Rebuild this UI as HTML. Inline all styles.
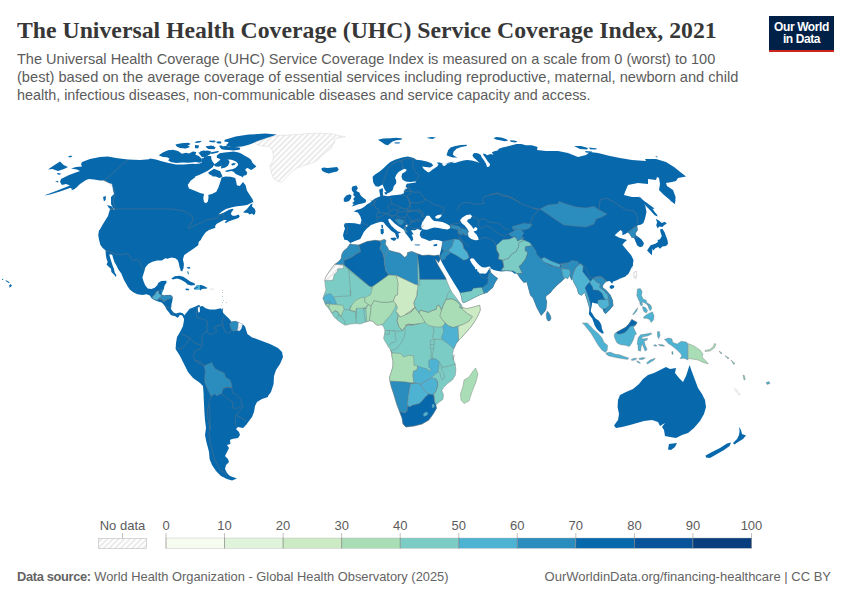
<!DOCTYPE html>
<html><head><meta charset="utf-8">
<style>
html,body{margin:0;padding:0;background:#fff;}
body{width:850px;height:600px;position:relative;overflow:hidden;font-family:"Liberation Sans",sans-serif;}
#title{position:absolute;left:17px;top:15px;transform:scaleX(0.9894);font-family:"Liberation Serif",serif;font-weight:bold;font-size:24px;line-height:30px;color:#373737;white-space:nowrap;transform-origin:0 0;}
#sub{position:absolute;left:17px;top:50px;font-size:15px;line-height:18px;color:#5b5b5b;white-space:nowrap;}
#sub span{display:block;transform-origin:0 0;}
#logo{position:absolute;left:769px;top:16px;width:65px;height:33.5px;background:#002147;border-bottom:2.5px solid #ce261e;color:#fff;font-weight:bold;font-size:12px;line-height:11.5px;text-align:center;letter-spacing:-0.4px;}
#logo div{margin-top:6px}
#f1{transform:scaleX(0.989);position:absolute;left:17px;top:569px;font-size:13px;line-height:16px;color:#646464;white-space:nowrap;transform-origin:0 0;}
#f2{position:absolute;right:19px;top:569px;font-size:13px;line-height:16px;color:#646464;white-space:nowrap;transform-origin:100% 0;}
svg{position:absolute;left:0;top:0;}
.lg{font-size:13px;fill:#5b5b5b;text-anchor:middle;font-family:"Liberation Sans",sans-serif;}
</style></head><body>
<div id="title">The Universal Health Coverage (UHC) Service Coverage Index, 2021</div>
<div id="sub"><span style="transform:scaleX(0.9683)">The Universal Health Coverage (UHC) Service Coverage Index is measured on a scale from 0 (worst) to 100</span><span style="transform:scaleX(0.9754)">(best) based on the average coverage of essential services including reproductive, maternal, newborn and child</span><span style="transform:scaleX(0.958)">health, infectious diseases, non-communicable diseases and service capacity and access.</span></div>
<div id="logo"><div>Our World<br>in Data</div></div>
<svg width="850" height="600" viewBox="0 0 850 600">
<defs>
<pattern id="hatch" width="4" height="4" patternUnits="userSpaceOnUse" patternTransform="rotate(45)"><rect width="4" height="4" fill="#fff"/><line x1="1" y1="0" x2="1" y2="4" stroke="#e6e6e6" stroke-width="1.6"/></pattern>
</defs>
<g id="map">
<path d="M82,162 L90,159 L100,157 L108,156.4 L116,158 L128,159.6 L140,160 L149,159.2 L150,158.6 L155.9,159.5 L161.7,161.2 L167.6,162.8 L176,164.4 L183.8,164.4 L192.9,163.8 L195,163.9 L199.9,163.5 L203.2,161.6 L204.9,157.7 L207.4,156.1 L211.1,156.1 L211.5,159.4 L212.7,161.8 L214.4,163.9 L212.7,167.2 L210.6,168.8 L207.4,170.9 L203.2,172.9 L199.1,175 L195,176.6 L195.5,177.1 L190.6,180.7 L187.7,185 L189,188.5 L194.2,190.4 L200.1,193 L204,194.1 L203.3,198.2 L204,202.1 L205.9,203.2 L207.9,201.5 L208.5,197.6 L208.3,195 L212.4,193.7 L216.3,191.7 L218.3,187.8 L219.6,183.9 L220.9,180 L221.5,177.4 L225.4,176.4 L230.6,176.8 L235.2,178.1 L236.1,181.3 L236.9,185.2 L239.7,185.9 L243,182 L245.6,185.2 L246.9,190.4 L250.1,195.6 L252.7,199.5 L253.4,203.4 L253.5,201.5 L252,202.5 L247,205 L242,205.8 L237,206.2 L232,207.2 L226,209 L221.5,211.8 L218.5,214.5 L223.5,212.8 L229,209.8 L232.5,208.8 L233.5,209.8 L231.8,211.5 L230.8,214 L232.5,215.8 L235.5,215.8 L238.5,214.5 L239.8,216.2 L238.5,218 L234,219.5 L229,221.2 L225.5,223.2 L225,222 L227,220 L224,220 L220,222 L216.5,224 L215,226.2 L215.5,227.8 L212,229 L209,230 L206,232 L204,234.5 L202,237.5 L200.8,240 L198.8,241.8 L198.2,245.3 L194.1,248.2 L191.2,250.2 L187.1,252.9 L184.1,255.3 L182.9,259.4 L183.9,264.1 L183.5,268.2 L182.4,270.6 L180.8,270.6 L179.4,266.5 L178.8,262.9 L177.6,260 L175.3,258.2 L171.2,257.6 L167.6,258.8 L165.3,258.2 L161.8,260.6 L157.1,260.4 L152.4,261.8 L148.2,264.1 L145.3,267.6 L144.7,270 L142.4,277.4 L143.6,281.5 L145.2,285.2 L147.7,288.5 L151.4,288.9 L154.7,287.7 L157.2,285.2 L158.4,282.8 L161.3,281.1 L166.2,280.7 L166.6,282.4 L164.6,285.6 L163.8,288.9 L162.5,291.4 L161.7,294.3 L163.8,295.5 L167.1,295.1 L170.8,295.1 L172.8,297.2 L172.4,300.5 L171.6,303.8 L171.2,307.1 L170.8,308.7 L172,310.4 L173.6,312.4 L176.1,313.6 L178.6,312.8 L180.2,312.4 L182.7,313.2 L184.8,315.7 L183.5,318.6 L182.7,316.1 L181.1,314.9 L179.4,315.3 L178.6,317.1 L177.4,317.8 L174.9,316.1 L172.8,315.7 L170.8,314.9 L168.7,312 L166.6,309.5 L165.4,307.1 L163.4,304.2 L161.7,302.5 L158.8,301.7 L155.5,300.5 L151.8,298.4 L149.8,295.5 L146.5,294.3 L142.4,295.1 L137.4,294.3 L133.3,292.2 L130,289.8 L128,287 L124,280 L121.3,273.6 L118.4,269.5 L116.4,265.4 L114.3,261.7 L113.1,258 L112.2,254.7 L109.8,254.3 L109.4,254.7 L110.2,258 L111.4,261.7 L112.6,265.4 L113.9,268.7 L114.7,272.4 L116.4,275.3 L115.9,276.9 L113.9,274.5 L111.4,272 L111,268.7 L108.5,266.6 L106.5,264.6 L107.7,262.1 L106.5,258.8 L105.8,254.7 L105.6,250.6 L102.4,247.7 L100.3,244.8 L99.1,239.9 L98.2,234.9 L99.1,230 L99.6,230 L103,224 L108,216 L110,209 L115,210 L113,208 L111,204 L111,197 L114,194 L113,190 L112,184 L109,183 L104,180.6 L100,180.6 L94,179.6 L89,179 L86,180 L80,184 L76,188 L70,188 L60,191.6 L50,194.4 L44,195.6 L56,191 L70,185.6 L66,184 L62,185 L60,182 L61,179 L69,175 L80,171 L77,169.6 L71,168.4 L76,167 L82,166.4 L81,164.4Z" fill="#0868ac"/>
<path d="M48,169.6 L53,166 L60,161.6 L63.6,165 L68,167 L64,169 L58,171 L52.4,169Z" fill="#0868ac"/>
<path d="M68,156.4 L71,155.6 L72.4,156.6 L69.6,157.4Z" fill="#0868ac"/>
<path d="M57,173 L61,173.6 L60,174.8 L57.6,174.4Z" fill="#0868ac"/>
<path d="M55,181.2 L58.4,181 L58,182.6Z" fill="#0868ac"/>
<path d="M71,188.4 L75.6,187.2 L75,189 L72,190Z" fill="#0868ac"/>
<path d="M103,197 L106,196 L105.6,200 L104,201.6Z" fill="#0868ac"/>
<path d="M107,205 L112,206.4 L114.4,211 L112,210.4 L109,208Z" fill="#0868ac"/>
<path d="M159,155 L164,152 L170,150 L170,157 L164,157Z" fill="#0868ac"/>
<path d="M159.1,155.6 L163,152.7 L167.6,150.4 L172.8,149.8 L178,151.1 L181.9,153.7 L185.8,152.7 L189,153.4 L192.9,151.4 L196.2,152.1 L195.5,154.7 L198.8,156 L201.4,158.6 L202,161.2 L200.1,162.8 L195.5,162.1 L189,162.8 L182.5,162.5 L176,163.1 L170.8,162.1 L168.2,160.5 L169.5,158.6 L166.9,157.3 L163,156.9Z" fill="#0868ac"/>
<path d="M203.3,152.1 L207.2,150.4 L211.1,151.4 L210.5,154 L207.2,156 L204.6,158.6 L202.7,156Z" fill="#0868ac"/>
<path d="M176,145.6 L181.2,143.9 L187.7,143.3 L189.7,144.3 L186.4,145.6 L189,146.9 L185.1,148.2 L180.6,147.5 L178,146.5Z" fill="#0868ac"/>
<path d="M194.2,142.6 L199.4,141 L201.7,141.5 L196.8,143.1Z" fill="#0868ac"/>
<path d="M205.9,146.9 L211.1,145.9 L215,147.5 L213.1,149.1 L208.5,148.8Z" fill="#0868ac"/>
<path d="M209.2,140.7 L215,140.5 L215.7,141.8 L210.5,142Z" fill="#0868ac"/>
<path d="M216.3,141.7 L220.9,142 L221.3,143.6 L217,143.3Z" fill="#0868ac"/>
<path d="M220.2,147.5 L225.4,146.2 L233.2,147.5 L239.7,148.2 L238.4,149.5 L233.2,149.8 L226.7,149.5 L222.2,149.1Z" fill="#0868ac"/>
<path d="M224.9,139.8 L235.6,136.5 L248.8,134.6 L265.3,133.6 L276.8,134.6 L265.3,139 L255.4,142.3 L248.8,144.8 L242.2,146.4 L232.4,147.2 L225.8,145.6 L229.1,142.3 L224.1,141.5Z" fill="#0868ac"/>
<path d="M216.8,155.6 L219.7,153.2 L224.6,152.4 L229.6,151.9 L233.7,151.5 L238.6,152.4 L241.1,153.6 L244.4,155.6 L248.5,157.7 L251,159.8 L252.6,163.1 L256.4,166.4 L252.6,169.2 L251,170.1 L247.7,168 L246.1,168.4 L245.2,170.1 L247.3,172.5 L246.5,175 L243.6,175.8 L242.8,177.5 L241.1,176.2 L237.8,175 L235.4,173.8 L233.7,171.7 L231.2,170.9 L227.9,171.7 L225.5,171.7 L225.1,170.9 L227.9,170.1 L232.1,169.2 L235.4,168 L237.8,165.5 L238.2,163.9 L236.2,161.8 L233.7,160.6 L231.2,159.8 L228.8,159.4 L226.3,159.8 L226.7,161.4 L224.6,163.9 L222.2,165.5 L218.9,166.8 L215.6,166.4 L213.5,164.7 L216.4,163.1 L218.9,161 L220.5,159.4 L218.9,158.5 L216.8,157.7Z" fill="#0868ac"/>
<path d="M231.2,163.9 L233.7,162.9 L235.8,163.5 L234.5,165.1 L232.1,165.5Z" fill="#0868ac"/>
<path d="M208.3,172.5 L214,168.7 L220.2,171.3 L222.6,176.4 L219.6,177.9 L215.7,176.4 L212.2,175.8 L208.8,174Z" fill="#0868ac"/>
<path d="M211.9,175.8 L215.6,175 L215.2,176.2 L212.7,176.6Z" fill="#0868ac"/>
<path d="M218.1,177.1 L219.7,176.2 L219.3,177.9Z" fill="#0868ac"/>
<path d="M205.7,146.6 L213.9,145.8 L213.5,147.8 L208.2,148.6Z" fill="#0868ac"/>
<path d="M218.9,145.8 L222.2,145.4 L223,147 L227.9,147.8 L233.7,147.4 L239.1,147.8 L238.6,149.1 L232.1,149.7 L226.3,149.5 L221.4,149.1Z" fill="#0868ac"/>
<path d="M198.3,152.4 L208.2,151.5 L207.4,154 L202.4,155.6 L199.9,154.4Z" fill="#0868ac"/>
<path d="M210.2,152.4 L218.9,150.7 L218.1,152.4 L211.5,154Z" fill="#0868ac"/>
<path d="M195,144.9 L199.1,145.4 L198.3,148.2 L195,148.2Z" fill="#0868ac"/>
<path d="M195,141.6 L201.6,140.8 L199.9,142.5Z" fill="#0868ac"/>
<path d="M209,140.8 L214.8,141.2 L214.4,142.5 L209.8,142.1Z" fill="#0868ac"/>
<path d="M217.2,141.6 L220.5,141.2 L221.4,142.9 L218.1,143.3Z" fill="#0868ac"/>
<path d="M226.3,141.2 L232.1,140 L241.1,140 L237.8,142.5 L232.1,143.7 L227.9,144.1 L229.6,142.5Z" fill="#0868ac"/>
<path d="M200.1,151.4 L203.3,150.4 L207.9,151.1 L208.5,154 L205.9,156 L202,157.3 L200.1,154.7Z" fill="#0868ac"/>
<path d="M201.4,158.6 L205.9,157.6 L208.5,159.2 L207.2,162.1 L203.3,163.4 L201.4,161.5Z" fill="#0868ac"/>
<path d="M205.9,146.5 L211.1,145.6 L215.7,147.2 L214.4,149.3 L208.5,149.1Z" fill="#0868ac"/>
<path d="M175.4,144.6 L181.2,143.3 L188.4,142.8 L190.6,144.1 L187.7,145.4 L190,147 L185.8,148.5 L180.2,148 L177,146.7Z" fill="#0868ac"/>
<path d="M220.2,147.2 L225.4,145.9 L233.2,147 L240.4,147.8 L239.7,149.8 L233.2,150.4 L226.7,149.8 L221.8,149.3Z" fill="#0868ac"/>
<path d="M228,140 L233.2,139.4 L238.4,141 L237.1,143.9 L231.9,144.9 L228.7,143.3Z" fill="#0868ac"/>
<path d="M222.8,159.9 L228,159.2 L229.6,162.1 L228,165.7 L224.8,167.7 L220.9,168.6 L221.5,165.1 L223.5,162.5Z" fill="#0868ac"/>
<path d="M243,212.2 L247,209 L251,204 L252.5,203.5 L252,206.5 L254.5,208.5 L255.5,211 L255,214 L253.5,215 L252,213.5 L249.5,214.5 L248,213 L245,212.8Z" fill="#0868ac"/>
<path d="M254.7,142.6 L260.6,140.3 L267.6,137.9 L277.1,135.6 L288.8,135 L299.4,134.4 L308.8,133.5 L320.6,133.2 L332.4,133.8 L339.4,135.6 L345.3,136.8 L338.2,137.9 L334.1,139.1 L334.7,142.6 L332.4,145 L331.2,148.5 L327.1,151.5 L324.4,153.5 L322,155.4 L319.4,158.4 L315.3,161.7 L311.2,163.2 L307.6,164.4 L301.8,166.2 L297.1,167.9 L292.4,170.9 L288.8,174.4 L285.3,178.5 L281.8,182.1 L278.2,181.5 L274.1,179.1 L271.8,174.4 L270.6,169.7 L270,165 L272.4,161.5 L273.5,156.8 L272.9,152.1 L271.2,147.9 L268.8,146.2 L264.1,146.2 L259.4,145.6 L256.5,144.4Z" fill="url(#hatch)" stroke="#dcdcdc" stroke-width="0.6"/>
<path d="M321.2,168.5 L323.5,167.4 L327.6,167.9 L332.4,167.4 L337.1,167.1 L338.8,169.5 L337.1,171.5 L332.4,172.6 L328.8,173.5 L325.3,172.6 L322.4,170.9Z" fill="#0868ac"/>
<path d="M171.4,278.5 L174.7,276.2 L179.4,275.8 L183.2,276.7 L186.7,279.1 L190.2,281.4 L194.5,283.2 L195.1,284.9 L191.2,285.4 L187.4,284.6 L186,282.8 L183.2,281.1 L180.4,279.4 L177.1,278.5 L172.9,279.5Z" fill="#0868ac"/>
<path d="M193.8,288.5 L196.9,285.3 L201.2,284.9 L204,286 L207.5,288.1 L206.1,288.8 L203.3,288.8 L201.2,289.5 L200.5,290.6 L199.1,289.2 L196.2,289.5 L194.1,289.2Z" fill="#0868ac"/>
<path d="M185,289.1 L186.8,288.5 L189.3,289.1 L188.9,290.2 L186.4,290.2Z" fill="#0868ac"/>
<path d="M209.6,288.6 L213.9,288.5 L214,289.7 L210,289.9Z" fill="#ececec"/>
<path d="M221.6,308.8 L222.9,308.5 L223.1,309.6 L222,310Z" fill="#0868ac"/>
<path d="M222,290.2 L222.7,290.2 L222.7,290.9 L222,290.9Z" fill="#7d9fb5"/>
<path d="M222,292.2 L222.7,292.2 L222.7,292.9 L222,292.9Z" fill="#7d9fb5"/>
<path d="M222.2,296.2 L222.9,296.2 L222.9,296.9 L222.2,296.9Z" fill="#7d9fb5"/>
<path d="M223.1,300.1 L223.8,300.1 L223.8,300.8 L223.1,300.8Z" fill="#7d9fb5"/>
<path d="M222,302.1 L222.7,302.1 L222.7,302.8 L222,302.8Z" fill="#7d9fb5"/>
<path d="M226.1,302.1 L226.8,302.1 L226.8,302.8 L226.1,302.8Z" fill="#7d9fb5"/>
<path d="M221.1,304.9 L221.8,304.9 L221.8,305.6 L221.1,305.6Z" fill="#7d9fb5"/>
<path d="M186.5,267.4 L189.4,266.7 L190.6,268.2 L188.2,268.8Z" fill="#0868ac"/>
<path d="M9.2,285.8 L10.2,284 L12,285.4 L10.9,286.8 L9.5,287.7Z" fill="#0868ac"/>
<path d="M5.3,280.3 L6.7,280.5 L9.9,282.4 L8.8,282.9 L6.4,281.5Z" fill="#0868ac"/>
<path d="M2,278.9 L3.2,278.7 L3.2,279.8 L2.1,279.9Z" fill="#0868ac"/>
<path d="M180.6,270 L182.7,270.2 L182.5,271.2 L180.9,271Z" fill="#0868ac"/>
<path d="M187.2,271.2 L188.3,271.5 L188.9,274.5 L187.8,274.1Z" fill="#0868ac"/>
<path d="M183.8,315.9 L186.2,312.9 L189.7,308.8 L194.4,307.1 L199.1,304.7 L200.3,306.5 L202.6,305.9 L205.6,308.2 L209.7,309.4 L215.6,309.4 L220.3,308.2 L222.6,310 L223.2,312.9 L226.2,315.9 L229.1,318.8 L231.5,321.8 L235.6,321.2 L239.1,322.4 L242.6,324.1 L245,326.5 L247.4,334.1 L252.1,337.6 L254,338 L262,341 L270,344 L278,348 L282,352 L283,357 L280,364 L276,370 L274,376 L273.6,384 L271,392 L268,396 L268,397 L262,399 L257,402 L255,406 L254,412 L252,417 L249,421 L246,425 L243,428 L238,427 L236,429 L239,432 L240,435 L238,438 L232,439 L230,440 L230.4,444 L227,445 L229,448 L227,452 L225,456 L228,459 L229,462 L226,465 L225,469 L227,473 L230,476 L237,478.6 L232,480.4 L227,479 L221,476 L216,471 L212,465 L209.6,459 L209,452 L208,448 L206.4,442 L205,435 L206,428 L205,420 L204.4,412 L204,404 L203.6,396 L203.6,394 L203,386 L200,383 L193,378 L188,372 L184,364 L180,356 L175.6,349 L176,343 L177,337 L180,332 L183,326 L184,320Z" fill="#0868ac"/>
<path d="M350,243.8 L352.4,244.4 L358.8,245 L367.1,241.5 L375.3,240.3 L380,240.9 L384.1,239.4 L385.9,240.3 L385.3,244.4 L387.6,247.4 L388.8,250.3 L392.9,251.5 L400,253.2 L404.7,257.4 L407.1,255.6 L407.6,252.6 L411.8,251.5 L412.1,251.5 L417.4,253.8 L422.6,255.6 L428.5,255 L434.4,255.8 L439.1,255 L440.3,259.1 L438.5,262.6 L436.2,259.7 L435,259.1 L437.9,265 L441.5,270.9 L445,276.8 L446.2,279.4 L448.5,285 L450.3,289.1 L452.1,292.6 L452.1,292.4 L455.6,297.1 L459.1,301.8 L461.5,304.7 L462.1,307.1 L466.2,308.8 L473.2,307.1 L479.7,305.3 L480.3,310 L477.9,315.9 L474.4,321.8 L470.3,327.6 L465,333.5 L460.3,338.8 L458.5,340.6 L456.2,343.5 L453.8,348.8 L452.6,353.5 L453.2,360 L454.1,354.7 L453.5,359.4 L455.3,364.1 L455.9,370 L455.3,375.3 L452.4,380 L447.6,383.5 L443.5,387.6 L441.8,390.6 L443.5,394.7 L442.9,399.4 L438.8,402.4 L435.9,405.3 L436.5,408.2 L433.5,413.5 L428.8,420 L422,424 L414,426 L406,427 L403,424 L402,418 L399.4,411.2 L397.1,405.3 L395.3,399.4 L393.5,393.5 L391.2,386.5 L390,381.2 L389.4,377.6 L391.2,372.4 L392.9,366.5 L392.9,360.6 L391.8,355.9 L391.8,352.9 L390.6,350 L392.4,354.1 L390.6,350 L388.2,346.5 L385.3,341.8 L383.5,338.2 L384.5,334.1 L384.9,330.6 L383.5,326.5 L381.2,324.7 L377.6,325.3 L375.3,324.1 L372.9,321.2 L369.4,320.8 L364.7,322.4 L360,324.1 L356.5,323.5 L350.6,324.1 L345.3,325.3 L342.9,324.1 L338.8,321.2 L334.1,317.1 L331.8,313.5 L328.8,308.8 L325.9,305.3 L324.7,302.9 L322.9,298.2 L324.1,294.7 L325.9,290 L325.3,286.2 L324.7,280.5 L325.9,276.8 L328.8,272.1 L331.8,267.9 L334.7,264.4 L338.8,261.5 L341.2,258.5 L341.8,254.4 L343.5,251.1 L347.3,247.9Z" fill="#7bccc4" stroke="#777777" stroke-width="0.4"/>
<path d="M350.3,242.9 L347.4,240.3 L344.4,239.7 L343,235.6 L343.8,232.1 L345,228.5 L343.8,225.6 L345,223.2 L349.1,222.9 L355,223.2 L360.3,224.4 L361.5,220.3 L360.3,216.2 L357.9,212.6 L353.8,211.5 L356.8,209.7 L360.3,209.1 L363.2,207.4 L365,206.2 L366.8,204.4 L370.3,202.6 L372.6,200.3 L375,198.5 L377.4,197.4 L380.3,196.2 L379.7,193.2 L379.1,189.7 L379.1,195 L379.1,189.7 L382.6,187.9 L383.2,190.9 L382.3,195 L383.2,188.5 L382.6,192.1 L383.2,195.6 L387.9,196.2 L391.5,195.6 L396.2,195 L400.9,194.4 L403.8,193.2 L404.4,190.3 L404.4,189.7 L407.4,188.5 L405.6,186.2 L406.8,183.8 L410.3,183.2 L415.6,182.6 L416.2,181.2 L410.3,182.1 L405.6,181.5 L402.6,179.7 L401.5,176.8 L402.1,173.8 L405.6,171.5 L406.8,169.7 L404.4,168.8 L401.5,170.3 L398.5,172.1 L396.2,175 L395,177.9 L396.2,180.3 L396.2,183.2 L393.8,186.2 L392.6,190.3 L389.7,192.6 L387.4,193.2 L385.6,190.9 L384.4,189.1 L383.8,187.4 L382.6,184.4 L378.5,186.8 L375.6,186.2 L373.2,182.6 L372.6,176.8 L375,174.4 L379.7,171.5 L383.2,168.5 L386.8,165 L390.3,162.1 L395,159.7 L402.1,157.4 L407.9,156.5 L413.8,157.9 L416.2,159.7 L420.9,160.3 L426.8,161.5 L431.5,163.2 L433.2,165.6 L430.3,167.6 L425.6,167.1 L422.1,166.4 L423.8,169.1 L426.2,171.1 L428.5,172.6 L430.9,171.1 L432.6,169.5 L435,167.9 L437.4,166.2 L438.5,164.4 L436.8,162.6 L439.7,162.4 L442.6,163.6 L442.1,165.6 L444.4,164.4 L449.1,162.6 L455,161.5 L441.8,165.3 L444.7,165.9 L447.1,164.1 L451.8,162.4 L454.7,162.9 L458.8,161.8 L463.5,160.6 L467.1,160 L471.8,160.6 L476.5,161.8 L479.4,162.9 L476.5,160 L473.5,157.6 L472.4,155.3 L474.1,152.9 L477.6,153.2 L480.6,154.7 L481.8,157.6 L484.1,160.6 L485.9,163.5 L487.1,167.1 L489.4,166.5 L490,164.1 L487.6,161.2 L485.3,157.6 L483.5,155.3 L482.9,153.5 L485.3,154.1 L487.1,155.3 L490.6,154.1 L493.5,154.7 L491.8,152.4 L494.1,151.2 L497.6,150.6 L498.8,148.8 L502.4,147.6 L507.1,146.5 L511.8,145.3 L516.5,144.1 L521.2,144.1 L525.9,145.3 L531.8,145.3 L537.6,147.1 L537,150 L546,151 L558,151 L568,153 L578,157 L586,155 L590,152 L598,153 L610,156 L620,158 L632,160 L646,161 L645,159 L656,159 L666,162 L674,167 L679,171 L686,176.4 L678,178 L676,181 L672,182 L666,183 L667,186 L673,190 L675.6,197 L675,204 L670,200 L664,195 L659,190 L660,184 L659,178 L657,177 L656,180 L648,179 L648,184 L638,183 L628,185 L625,192 L624,195 L632,197 L639,197 L642.4,200 L645.3,205.9 L646.5,211.8 L645.3,217.6 L643.5,222.9 L640.6,224.7 L637.6,225.3 L637.1,227.1 L637.6,230 L635.3,233.5 L636.2,235.6 L638.8,237.2 L641.6,239.5 L644,243.3 L642.8,246.2 L640,247.3 L637.2,245.4 L635.5,241.6 L634.1,237.9 L631.8,237.4 L629.4,233.5 L627.6,232.4 L625.3,234.1 L622.4,235.3 L622.4,231.8 L620.6,230 L617.6,232.4 L614.7,235.3 L618.8,237.6 L622.9,238.8 L627.1,240 L624.1,242.4 L622.4,244.7 L625.3,248.2 L628.2,251.8 L631.2,255.3 L633.5,260 L632.9,264.7 L631.8,270 L633.2,264.4 L630.9,269.1 L628.5,273.8 L625,276.8 L620.3,278.5 L616.8,280.3 L613.2,281.5 L612.1,283.8 L609.7,280.9 L606.2,281.5 L603.2,284.4 L602.6,287.4 L606.2,290.3 L610.3,295 L612.6,300.3 L613.2,305.6 L609.7,309.7 L605.6,313.8 L603.8,312.1 L602.6,309.1 L599.7,306.8 L597.9,303.8 L594.7,303.2 L592.2,302.5 L591.8,305.6 L591,309.4 L590.8,311.6 L592.4,313.7 L594,316.5 L595.9,318.7 L598.4,320.3 L600.3,322.8 L601.5,325.6 L601.9,328.7 L603.1,331.2 L603.8,333.2 L602.1,333.6 L599.2,331.6 L596.8,329.1 L594.7,325.4 L593.5,322.1 L592.2,318.4 L590.2,315.9 L588.8,313.9 L589.4,309.8 L588.9,306.5 L587.7,302.4 L586.1,297.4 L584.8,293.3 L584.4,292.6 L581.5,295.6 L578.5,293.8 L576.8,287.9 L573.8,282.6 L572.1,277.9 L571.5,280.3 L569.7,275.6 L567.4,279.1 L566.2,277.4 L563.8,279.1 L561.5,281.5 L558.1,284.2 L555.3,287.1 L552.5,289.9 L550.4,292.7 L548.2,294.5 L546.1,295.9 L545.8,298.4 L546.8,301.2 L546.5,304.7 L546.1,308.9 L545.1,311.1 L541.2,315.6 L537,308 L533,298 L530.3,295 L528.5,288.5 L526.8,282.1 L523.8,282.6 L520.3,278.5 L517.4,273.8 L514.3,273.4 L511.8,271.4 L506.1,270.9 L501.1,271.4 L497.8,270.9 L493.7,270.1 L490.8,268.5 L490,266.4 L487.9,266.8 L485.5,267.6 L482.2,267.2 L479.7,265.6 L477.2,263.1 L475.2,260.6 L473.5,258.6 L471.5,258.2 L469.8,259.4 L471.1,262.3 L472.7,264.8 L474.8,267.2 L475.6,269.7 L476.2,268.9 L477.2,269.3 L477.4,271.4 L478.1,271.4 L479.7,273.4 L483,273.4 L485.5,273.8 L487.1,272.2 L488.4,269.7 L489.6,269.7 L490,270.1 L491.2,273 L494.5,275.9 L497.8,278.4 L495.8,281.2 L494.1,284.5 L492.9,287.4 L489.6,290.3 L487.1,292.4 L484.2,293.6 L480.3,294.7 L470.9,299.4 L463.8,302.9 L462.1,301.8 L461.5,297.1 L459.7,292.4 L460.3,293.2 L457.4,288.5 L454.4,283.8 L450.9,277.9 L446.2,270.3 L442.6,263.8 L440.3,259.1 L439.7,254.4 L440.9,250.3 L441.7,246.2 L442.6,241.5 L441.8,241.2 L438.8,240.3 L434.1,239.7 L429.4,240.9 L424.7,239.1 L420,237.4 L421.5,237.9 L419.7,235 L420.3,232.1 L422.6,229.1 L420.9,230.3 L417.4,229.1 L415,230.3 L410.9,230.3 L412.1,232.1 L413.8,234.4 L411.5,234.4 L412.6,236.8 L413.2,239.7 L411.5,241.5 L409.7,238.5 L407.4,235.6 L405.6,233.2 L404.4,230.3 L402.1,228.5 L398.5,226.2 L395,223.8 L391.5,220.3 L389.7,218.5 L388.2,219.4 L388.9,222.1 L391.2,225.6 L394.8,229.1 L397.9,231.5 L401.1,232.3 L399.5,233 L398.3,233.8 L399.1,236.8 L397.9,239.4 L396.2,236.8 L395,233.2 L391.5,230.9 L388.5,227.9 L385.6,225 L383.8,222.6 L381.5,221.7 L379.7,222.1 L375.6,223.2 L372.6,224.4 L370.9,225 L369.7,226.2 L366.8,228.5 L363.8,232.1 L362.1,235.6 L360.3,239.1 L355,240.9Z" fill="#0868ac"/>
<path d="M352.4,186.4 L356.4,185.4 L357.9,188.3 L356.2,190.9 L359.1,192.3 L360.9,195.8 L363.2,197.7 L366.2,200.1 L365.6,202.4 L362.3,203.6 L358.5,204.3 L355,205.5 L351.7,206.6 L353.8,204.1 L352.2,202.9 L354.5,201 L353.2,199.1 L355,196.8 L353.2,195.1 L353.8,192.8 L352.2,190.9 L351.6,188.5Z" fill="#0868ac"/>
<path d="M343.8,198.5 L346.2,195.6 L349.7,194.2 L351.5,195.6 L350.9,198.5 L349.1,200.9 L346.2,202.1 L343.8,201.5Z" fill="#0868ac"/>
<path d="M390.3,237.9 L395,237.4 L396.8,238.5 L394.4,240.9 L391.5,239.7Z" fill="#0868ac"/>
<path d="M380.5,229.1 L383.5,228.5 L383.8,232.3 L382.8,234.5 L380.8,233.8Z" fill="#0868ac"/>
<path d="M381.4,224.8 L383,225.1 L382.9,228.2 L381.5,227.9Z" fill="#0868ac"/>
<path d="M384.4,192.1 L387.4,192.3 L387.1,194.4 L385,194.2Z" fill="#0868ac"/>
<path d="M414.4,244.4 L419.7,244.4 L419.7,245.4 L415,245.2Z" fill="#0868ac"/>
<path d="M433.2,244.8 L437.4,243.8 L436.8,245.9 L433.8,246.2Z" fill="#0868ac"/>
<path d="M377.9,139.7 L383.2,138.5 L390.3,138.2 L396.2,137.7 L402.1,138.5 L401.5,139.7 L396.2,140.3 L392.6,141.5 L390.3,143.2 L387.9,145.2 L385,144.4 L381.5,142.1Z" fill="#0868ac"/>
<path d="M394.4,142.4 L399.7,142.2 L399.5,143.4 L395,143.4Z" fill="#0868ac"/>
<path d="M426.8,137.7 L431.5,137 L435.9,137.4 L432.6,138.9 L429.1,138.5Z" fill="#0868ac"/>
<path d="M446.5,155.3 L448.2,150 L450.6,147.6 L455.3,145.9 L461.2,144.9 L467.1,144.7 L466.5,146.1 L461.2,147.1 L456.5,148.8 L453.5,151.8 L452.9,154.7 L455.3,156.5 L457.6,157.6 L452.9,157.4 L449.4,156.5Z" fill="#0868ac"/>
<path d="M493.5,137.9 L496.5,137.1 L501.2,137.6 L505.9,139.1 L508.2,140.6 L504.7,141.2 L500,140.2 L495.9,139.4Z" fill="#0868ac"/>
<path d="M510,140.2 L514.1,140.6 L517.6,141.5 L515.3,142.4 L510.6,141.8Z" fill="#0868ac"/>
<path d="M574,146 L581,146 L588,148 L587,149.6 L580,149Z" fill="#0868ac"/>
<path d="M589,147.6 L597,148.4 L596,149.6 L590,149.2Z" fill="#0868ac"/>
<path d="M585,151 L592,151.6 L591,153 L586,152.6Z" fill="#0868ac"/>
<path d="M655,156 L657.6,156.6 L657,157.6Z" fill="#0868ac"/>
<path d="M642.4,200 L647.1,202.9 L651.8,206.5 L654.7,208.8 L651.8,208.8 L653.5,211.2 L657.1,214.7 L657.6,216.5 L654.7,215.3 L651.8,211.8 L648.2,207.1 L644.7,203.5Z" fill="#0868ac"/>
<path d="M639,196 L645,202 L652,208 L657,215.6 L654,214 L648,208 L642,202Z" fill="#0868ac"/>
<path d="M655.9,218.8 L658.8,220.6 L661.8,222.9 L664.7,221.8 L666.8,223.5 L664.1,225.3 L662.4,227.1 L659.4,226.5 L657.6,228.2 L656.2,225.3 L657.1,222.4Z" fill="#0868ac"/>
<path d="M660,229.4 L662.4,228.8 L664.7,232.4 L666.1,236.5 L667.6,240.6 L668,244.1 L665.9,246.1 L662.4,246.5 L660,248.8 L658.2,247.1 L655.3,248.2 L653.5,250.6 L652.4,248.8 L651.8,255.3 L650,253.5 L647.1,250.6 L648.2,248.8 L650.6,245.3 L655.3,243.8 L657.9,242.1 L657.6,240 L660,239.2 L661.8,235.9 L660.6,232.4Z" fill="#0868ac"/>
<path d="M670,200 L675.3,200 L674.7,203.8 L671.8,201.8Z" fill="#0868ac"/>
<path d="M633.8,272.6 L636.2,270.9 L636.8,274.4 L635.6,279.1 L633.8,276.8Z" fill="url(#hatch)" stroke="#bbb" stroke-width="0.5"/>
<path d="M609.7,286.2 L611.5,285 L614.4,285.8 L613.8,287.9 L611.5,289.1 L609.7,287.9Z" fill="#0868ac"/>
<path d="M689.6,365 L692,372 L695,380 L698,388 L702,394 L705,400 L706,407 L704,414 L700,421 L694,428 L688,433 L682,435 L676,438 L670,437 L665,436 L664,430 L662,427 L665,423 L660,426 L658,422 L652,420 L644,421 L637,423 L630,425 L622,427 L616,428 L614,425.6 L618,420 L619,414 L617.6,407 L618,400 L620,395 L626,392 L633,389 L639,384 L643,379 L648,375 L654,373 L660,370 L666,367 L670,369 L676,368 L675,373 L679,378 L683,382 L686,376 L688,370Z" fill="#0868ac"/>
<path d="M669,444 L677,443 L675,447 L671,450 L668,449.6Z" fill="#0868ac"/>
<path d="M739,427 L741,430 L742,434 L746,435.6 L743,439 L738,442 L734.4,444.4 L733,443 L737,439 L739,435 L739.6,431Z" fill="#0868ac"/>
<path d="M731,442.4 L729.6,446 L724,450 L717,454 L710,458 L706,457.6 L705.6,455.6 L712,452 L720,448 L727,443.6Z" fill="#0868ac"/>
<path d="M734,389 L735.6,388.6 L740.4,394.4 L739,395.2Z" fill="url(#hatch)" stroke="#ccc" stroke-width="0.4"/>
<path d="M193.8,288.5 L196.9,285.3 L199.8,285.1 L200.1,289.2 L199.1,289.2 L196.2,289.5 L194.1,289.2 L196.6,288.3 L198,287.8 L197.6,286.7 L195.9,287.4Z" fill="#4eb3d3"/>
<path d="M156.2,291.6 L159,291 L158.8,293.5 L160.5,294.7 L161.7,294.7 L161.3,296.4 L158.8,298.4 L157.6,300.1 L154.3,299.6 L152.1,298 L153.1,295.9 L155.5,293.9Z" fill="#4eb3d3" stroke="#777777" stroke-width="0.38"/>
<path d="M161.7,295.1 L163.8,295.7 L167.1,295.3 L170.8,295.3 L172.8,297.2 L170.8,298.4 L168.3,299.2 L166.2,300.1 L164.6,301.7 L163.4,301.7 L162.5,299.6 L160.1,299.2 L159.6,298 L161.3,296.4Z" fill="#2b8cbe" stroke="#777777" stroke-width="0.38"/>
<path d="M161.7,289.4 L163.8,288.9 L162.5,291.4 L161.7,294.3 L160.9,294.3 L161.1,291.4Z" fill="#2b8cbe"/>
<path d="M204.1,365.9 L208.2,364.1 L211.8,362.4 L212.9,365.3 L215.3,368.8 L220,371.2 L224.1,372.9 L225.9,377.6 L230,380 L231.8,384.7 L231.8,387.6 L226.5,387.1 L222.9,388.8 L221.8,393.5 L218.8,394.7 L217.1,395.9 L214.7,394.1 L211.2,396.5 L208.8,391.8 L206.5,387.1 L204.7,382.4 L204.7,376.5 L205.3,371.2Z" fill="#2b8cbe" stroke="#777777" stroke-width="0.38"/>
<path d="M229.7,323.5 L232.1,321.8 L235.6,321.2 L238.5,322.4 L237.9,327.1 L236.8,330.6 L233.2,331.2 L230.9,328.8Z" fill="#2b8cbe" stroke="#777777" stroke-width="0.38"/>
<path d="M238.5,322.4 L242.6,324.1 L241.5,328.2 L239.7,330.8 L237.4,330.4 L238.2,327.1Z" fill="url(#hatch)" stroke="#ccc" stroke-width="0.4"/>
<path d="M197.9,307.3 L199.7,306.8 L199.9,311.8 L198.5,312.7 L197.9,310Z" fill="#ffffff"/>
<path d="M350,243.8 L352.4,244.4 L358.8,245 L360.6,251.5 L355.3,254.4 L351.2,257.4 L344.7,259.7 L344.1,264.4 L334.7,264.4 L338.8,261.5 L341.2,258.5 L341.8,254.4 L343.5,251.1 L347.3,247.9Z" fill="#2b8cbe" stroke="#777777" stroke-width="0.38"/>
<path d="M334.7,264.4 L342.9,265 L343.5,267.9 L337.6,269.1 L337.1,272.1 L334.1,274.4 L332.9,280.3 L324.7,280.5 L325.9,276.8 L328.8,272.1 L331.8,267.9Z" fill="url(#hatch)" stroke="#777777" stroke-width="0.38"/>
<path d="M358.8,245 L367.1,241.5 L375.3,240.3 L380,240.9 L381.2,243.8 L380,248.5 L382.9,253.2 L384.1,257.9 L384.7,265 L385.9,270.9 L388.8,275 L372.4,286.8 L369.4,286.2 L344.1,265 L344.1,260.3 L351.2,257.4 L355.3,254.4 L360.6,251.5Z" fill="#0868ac" stroke="#777777" stroke-width="0.38"/>
<path d="M380,240.9 L384.1,239.4 L385.9,240.3 L385.3,244.4 L387.6,247.4 L388.8,250.3 L385.9,253.8 L384.1,257.9 L382.9,253.2 L380,248.5 L381.2,243.8Z" fill="#2b8cbe" stroke="#777777" stroke-width="0.38"/>
<path d="M388.8,250.3 L392.9,251.5 L400,253.2 L404.7,257.4 L407.1,255.6 L407.6,252.6 L411.8,251.5 L417.6,253.8 L417.6,265 L417.9,285 L415.3,284.4 L396.5,275.6 L388.8,275 L385.9,270.9 L384.7,265 L384.1,257.9 L385.9,253.8Z" fill="#2b8cbe" stroke="#777777" stroke-width="0.38"/>
<path d="M417.4,253.8 L422.6,255.6 L428.5,255 L434.4,255.8 L439.1,255 L440.3,259.1 L438.5,262.6 L436.2,259.7 L435,259.1 L437.9,265 L441.5,270.9 L445,276.8 L446.2,279.4 L419.7,279.4 L418.9,266.2Z" fill="#0868ac" stroke="#777777" stroke-width="0.38"/>
<path d="M372.4,286.8 L388.8,275 L396.5,275.6 L398.2,283.8 L397.6,295 L395.3,295.9 L393.5,301.2 L388.2,302.4 L381.2,302.4 L374.1,300.6 L371.2,305.9 L368.2,304.7 L364.7,301.8 L364.7,297.6 L370.6,294.7 L371.8,290Z" fill="#a8ddb5" stroke="#777777" stroke-width="0.38"/>
<path d="M396.5,275.6 L415.3,284.4 L417.9,285 L417.4,290 L416.8,295.9 L413.8,302.9 L415,307.6 L410.9,311.8 L405,314.7 L414.7,307.6 L410.6,312.4 L404.7,315.3 L400,317.1 L397.6,312.9 L395.9,311.8 L397.6,307.6 L395.9,304.1 L393.5,301.2 L395.3,295.9 L397.6,295 L398.2,283.8Z" fill="#ccebc5" stroke="#777777" stroke-width="0.38"/>
<path d="M446.2,299.4 L452.1,298.8 L456.8,301.2 L460.3,305.3 L459.7,307.6 L462.1,308.8 L467.4,313.5 L472.6,316.5 L469.1,321.2 L463.8,324.1 L457.9,325.9 L453.2,327.6 L448.5,325.9 L445,322.9 L442.1,319.4 L439.7,315.9 L441.5,310 L443.2,305.3Z" fill="#a8ddb5" stroke="#777777" stroke-width="0.38"/>
<path d="M462.1,308.8 L462.1,307.1 L466.2,308.8 L473.2,307.1 L479.7,305.3 L480.3,310 L477.9,315.9 L474.4,321.8 L470.3,327.6 L465,333.5 L460.3,338.8 L458.5,340.6 L457.9,326.5 L463.8,324.1 L469.1,321.2 L472.6,316.5 L467.4,313.5Z" fill="#ccebc5" stroke="#777777" stroke-width="0.38"/>
<path d="M445,322.9 L448.5,325.9 L453.2,327.6 L457.9,326.5 L458.5,340.6 L456.2,343.5 L453.8,348.8 L448.5,344.1 L442.1,339.4 L441.5,337.1 L443.8,331.2 L442.6,326.5Z" fill="#4eb3d3" stroke="#777777" stroke-width="0.38"/>
<path d="M419.1,312.9 L420.3,310 L423.8,311.2 L428.5,312.4 L432.1,310.6 L436.2,309.4 L436.8,305.9 L439.1,305.3 L441.5,310 L439.7,315.9 L442.1,319.4 L445,322.9 L442.6,326.5 L437.9,327.1 L433.2,326.5 L428.5,325.3 L425,322.4 L422.1,317.6Z" fill="#a8ddb5" stroke="#777777" stroke-width="0.38"/>
<path d="M398.2,315.3 L400,317.1 L404.7,315.3 L410.6,312.4 L414.7,307.6 L410.9,311.8 L415,307.6 L419.1,312.9 L422.1,317.6 L425,322.4 L420.3,323.5 L415.6,324.1 L410.9,325.3 L407.4,324.7 L405,325.3 L414.1,324.7 L408.2,324.1 L404.7,327.6 L402.4,330.6 L398.8,326.5 L397.1,320.6Z" fill="#a8ddb5" stroke="#777777" stroke-width="0.38"/>
<path d="M322.9,298.2 L325.9,294.7 L330.6,293.5 L333.5,297.1 L335.9,301.8 L336.5,304.1 L325.9,304.1 L324.7,302.4 L331.2,301.8 L324.7,301.2Z" fill="#4eb3d3" stroke="#777777" stroke-width="0.38"/>
<path d="M325.3,304.1 L330,304.1 L329.4,306.5 L326.5,305.9Z" fill="#a8ddb5" stroke="#777777" stroke-width="0.38"/>
<path d="M328.8,306.5 L330,304.1 L336.5,304.7 L342.9,305.3 L344.1,309.4 L342.4,312.4 L341.2,316.5 L337.6,311.8 L335.3,310.6 L332.4,312.9 L330,309.4Z" fill="#a8ddb5" stroke="#777777" stroke-width="0.38"/>
<path d="M351.2,305.9 L355.3,300.6 L361.2,297.6 L364.7,297.6 L364.7,301.8 L368.2,304.7 L365.3,307.6 L363.5,308.2 L356.5,308.2 L355.3,311.8 L349.4,310Z" fill="#a8ddb5" stroke="#777777" stroke-width="0.38"/>
<path d="M363.5,308.2 L365.9,308.8 L368.2,304.7 L371.2,305.9 L370.6,312.4 L369.4,320.8 L366.8,321.8 L365.9,308.8Z" fill="#a8ddb5" stroke="#777777" stroke-width="0.38"/>
<path d="M371.2,305.9 L374.1,300.6 L381.2,302.4 L388.2,302.4 L393.5,301.2 L395.9,304.1 L395.3,307.6 L390.6,315.3 L386.5,319.4 L383.5,323.5 L381.2,324.7 L377.6,325.3 L375.3,324.1 L372.9,321.2 L369.4,320.8 L370.6,312.4Z" fill="#a8ddb5" stroke="#777777" stroke-width="0.38"/>
<path d="M391.8,352.9 L400.6,353.5 L403.5,357.1 L408.8,355.3 L413.5,355.9 L414.1,365.3 L417.6,365.9 L417.1,370 L413.5,371.2 L412.9,375.9 L414.1,382.4 L410.6,382.9 L405.3,382 L390,381.2 L389.4,377.6 L391.2,372.4 L392.9,366.5 L392.9,360.6 L391.8,355.9Z" fill="#a8ddb5" stroke="#777777" stroke-width="0.38"/>
<path d="M390,381.2 L405.3,382 L410.6,382.9 L417.1,383.2 L410.6,383.9 L409.4,390 L408.2,397.1 L407.6,405.3 L407.1,411.2 L404.7,412.9 L399.4,411.2 L397.1,405.3 L395.3,399.4 L393.5,393.5 L391.2,386.5Z" fill="#2b8cbe" stroke="#777777" stroke-width="0.38"/>
<path d="M410.6,383.9 L417.1,383.2 L420.6,384.1 L422.4,387.6 L425.3,391.2 L428.8,394.1 L425.3,397.1 L422.4,400.6 L419.4,403.5 L415.9,404.4 L412.4,405.3 L409.4,407.1 L407.6,405.3 L408.2,397.1 L409.4,390Z" fill="#4eb3d3" stroke="#777777" stroke-width="0.38"/>
<path d="M420.6,384.1 L425.3,381.2 L431.2,377.6 L435.9,378.8 L437.6,381.8 L437.6,386.5 L435.9,391.2 L433.5,394.7 L428.8,394.1 L425.3,391.2 L422.4,387.6Z" fill="#4eb3d3" stroke="#777777" stroke-width="0.38"/>
<path d="M414.1,382.4 L412.9,375.9 L413.5,371.2 L417.1,370 L417.6,365.9 L421.8,367.6 L426.5,368.8 L430,371.2 L431.2,369.4 L428.8,367.1 L428.8,360.6 L431.2,358.8 L435.9,358.8 L439.4,361.8 L438.8,366.5 L438.2,371.8 L435.3,374.1 L431.2,377.6 L425.3,381.2 L420.6,384.1 L417.1,383.2 L414.1,382.9Z" fill="#4eb3d3" stroke="#777777" stroke-width="0.38"/>
<path d="M399.4,411.2 L404.7,412.9 L407.1,411.2 L407.6,405.3 L409.4,407.1 L412.4,405.3 L415.9,404.4 L419.4,403.5 L422.4,400.6 L425.3,397.1 L428.8,394.1 L433.5,394.7 L434.1,397.1 L434.5,401.8 L435.3,403.5 L435.9,405.3 L436.5,408.2 L433.5,413.5 L428.8,420 L422,424 L414,426 L406,427 L403,424 L402,418Z" fill="#0868ac" stroke="#777777" stroke-width="0.38"/>
<path d="M475.6,368 L478,374 L476,382 L472,392 L469,401 L464,403.6 L461,400 L460.4,394 L463,386 L464,380 L469,377 L473,371Z" fill="#a8ddb5" stroke="#777777" stroke-width="0.38"/>
<path d="M547.2,311.1 L548.9,312.8 L550.7,316 L551.1,318.8 L549.6,320.9 L547.9,320.9 L546.5,318.5 L546.1,314.6Z" fill="#2b8cbe" stroke="#777777" stroke-width="0.38"/>
<path d="M395,219.7 L399.1,219.1 L403.2,220.3 L403.8,222.6 L401.5,225 L399.1,224.4 L396.8,222.1Z" fill="#2b8cbe" stroke="#777777" stroke-width="0.38"/>
<path d="M404.4,226.8 L405.6,226.2 L406.2,229.7 L407.4,232.1 L405.6,233.2 L404.6,230.3Z" fill="#2b8cbe" stroke="#777777" stroke-width="0.38"/>
<path d="M405.6,225 L407.4,224.8 L407.5,226.6 L405.8,226.8Z" fill="#f2f2f2"/>
<path d="M450,225 L454.1,225.6 L458.8,226.2 L461.2,228.5 L458.8,229.7 L455.3,229.1 L451.2,227.9Z" fill="#2b8cbe" stroke="#777777" stroke-width="0.38"/>
<path d="M457.6,230.3 L460.6,230.3 L462.9,233.2 L461.2,235 L458.8,233.2Z" fill="#2b8cbe" stroke="#777777" stroke-width="0.38"/>
<path d="M461.2,228.5 L464.1,229.1 L467.1,230.3 L468.5,232.6 L467.6,235.6 L464.7,235 L462.9,233.2 L460.6,230.3 L458.8,229.7Z" fill="#2b8cbe" stroke="#777777" stroke-width="0.38"/>
<path d="M442.6,241.5 L448.5,240.3 L454.4,239.1 L453.2,242.6 L452.1,246.2 L448.5,250.3 L443.8,251.5 L442.1,248.5 L442.1,244.4Z" fill="#2b8cbe" stroke="#777777" stroke-width="0.38"/>
<path d="M440.9,254.4 L443.8,251.5 L448.5,250.3 L450.9,252.6 L446.2,256.2 L445,259.1 L441.5,260.3 L440.3,259.1Z" fill="#2b8cbe" stroke="#777777" stroke-width="0.38"/>
<path d="M454.4,239.1 L459.1,239.7 L462.6,243.8 L463.8,248.5 L467.4,252.6 L469.1,257.4 L467.4,259.1 L463.8,260.3 L457.9,256.2 L450.9,252.6 L448.5,250.3 L452.1,246.2 L453.2,242.6Z" fill="#4eb3d3" stroke="#777777" stroke-width="0.38"/>
<path d="M461.2,292.8 L471.5,291.1 L473.5,288.2 L481.4,287.4 L482.2,287.8 L484.2,293.6 L480.3,294.7 L470.9,299.4 L463.8,302.9 L462.1,301.8 L461.5,297.1 L459.7,292.4Z" fill="#7bccc4" stroke="#777777" stroke-width="0.38"/>
<path d="M489.6,271.4 L490,270.1 L491.2,273 L494.5,275.9 L497.8,278.4 L495.8,281.2 L494.1,284.5 L492.9,287.4 L489.6,290.3 L487.1,292.4 L484.2,293.6 L482.2,287.8 L487.5,283.7 L488.4,279.6 L487.5,278.4 L488.4,275.5Z" fill="#2b8cbe" stroke="#777777" stroke-width="0.38"/>
<path d="M488.9,268.7 L489.8,268.3 L490.6,269.5 L489.6,269.9Z" fill="#2b8cbe" stroke="#777777" stroke-width="0.38"/>
<path d="M496.2,245.6 L502.6,239.7 L509.7,239.1 L514.4,236.8 L516.8,238.5 L517.4,240.9 L521.5,239.1 L524.4,240.3 L519.1,242.6 L518.5,246.8 L516.2,251.5 L511.5,254.4 L508.5,258.5 L502.6,260.3 L498.5,259.1 L499.1,254.4 L496.8,250.3Z" fill="#7bccc4" stroke="#777777" stroke-width="0.38"/>
<path d="M519.1,242.6 L524.4,240.3 L529.7,242.6 L532.1,245.6 L525.6,246.8 L525,250.3 L527.9,252.6 L525.6,259.1 L521.5,264.4 L519.1,266.2 L520.3,269.1 L522.6,273.2 L517.4,273.8 L513.2,270.9 L500.9,270.6 L503.8,266.8 L502.6,260.3 L508.5,258.5 L511.5,254.4 L516.2,251.5 L518.5,246.8Z" fill="#7bccc4" stroke="#777777" stroke-width="0.38"/>
<path d="M525.6,246.8 L532.1,245.6 L535.6,250.3 L536.8,254.4 L540.3,257.9 L543.8,261.5 L550.9,265.6 L559.1,267.9 L561.5,266.8 L560.3,263.8 L565,263.2 L568.5,262.6 L572.1,260.3 L577.9,261.5 L579.1,264.4 L575.6,267.4 L573.8,272.1 L572.6,276.8 L571.5,280.3 L569.7,275.6 L570.3,273.2 L569.7,269.7 L566.2,269.1 L561.5,268.5 L562.6,274.4 L563.8,279.1 L561.5,281.5 L558.1,284.2 L555.3,287.1 L552.5,289.9 L550.4,292.7 L548.2,294.5 L546.1,295.9 L545.8,298.4 L546.8,301.2 L546.5,304.7 L546.1,308.9 L545.1,311.1 L541.2,315.6 L537,308 L533,298 L530.3,295 L528.5,288.5 L526.8,282.1 L523.8,282.6 L520.3,278.5 L517.4,273.8 L522.6,273.2 L520.3,269.1 L519.1,266.2 L521.5,264.4 L525.6,259.1 L527.9,252.6 L525,250.3Z" fill="#2b8cbe" stroke="#777777" stroke-width="0.38"/>
<path d="M541.5,258.5 L544.4,257.4 L550.9,260.9 L556.8,263.2 L560.3,264.4 L559.7,267.4 L554.4,266.2 L548.5,263.8 L543.2,261.5Z" fill="#4eb3d3" stroke="#777777" stroke-width="0.38"/>
<path d="M562.1,264.4 L566.2,263.8 L567.9,265.6 L565,266.8 L562.1,266.2Z" fill="#2b8cbe" stroke="#777777" stroke-width="0.38"/>
<path d="M561.5,268.5 L566.2,269.1 L569.7,269.7 L570.3,273.2 L569.7,275.6 L567.4,279.1 L566.2,277.4 L563.8,279.1 L562.6,274.4Z" fill="#4eb3d3" stroke="#777777" stroke-width="0.38"/>
<path d="M508.5,233.8 L513.2,231.5 L516.8,228.5 L521.5,229.7 L523.8,233.2 L521.5,236.8 L524.4,237.9 L521.5,239.1 L517.4,240.9 L516.8,238.5 L514.4,236.8 L510.9,236.2Z" fill="#2b8cbe" stroke="#777777" stroke-width="0.38"/>
<path d="M512.1,226.8 L517.9,225 L523.8,223.2 L532.1,224.4 L529.7,227.9 L525,229.7 L521.5,229.7 L516.8,228.5 L513.2,229.7Z" fill="#2b8cbe" stroke="#777777" stroke-width="0.38"/>
<path d="M575.6,267.9 L580.3,263.2 L583.2,266.2 L582.6,271.5 L585.6,275.6 L588.5,279.1 L590.3,281.5 L586.8,285 L585,287.9 L586.8,292.6 L588.5,297.4 L590.3,303.2 L590.1,310.3 L589.1,306.8 L587.9,302.1 L586.2,296.2 L584.4,292.6 L581.5,295.6 L578.5,293.8 L576.8,287.9 L573.8,282.6 L572.1,277.9 L573.2,273.8Z" fill="#4eb3d3" stroke="#777777" stroke-width="0.38"/>
<path d="M590.3,281.5 L593.2,278.5 L596.8,282.1 L600.3,283.8 L599.7,287.4 L603.8,290.3 L607.9,295 L608.5,299.1 L605.6,299.7 L603.8,297.4 L602.1,293.2 L598.5,290.3 L593.2,289.7 L592.6,286.8 L590.3,283.8Z" fill="#4eb3d3" stroke="#777777" stroke-width="0.38"/>
<path d="M593.2,278.5 L595.6,276.8 L600.3,276.2 L603.8,278.5 L606.2,281.5 L603.2,284.4 L602.6,287.4 L606.2,290.3 L610.3,295 L612.6,300.3 L613.2,305.6 L609.7,309.7 L605.6,313.8 L603.8,312.1 L605.6,308.5 L609.1,305.6 L608.5,299.1 L607.9,295 L603.8,290.3 L599.7,287.4 L600.3,283.8 L596.8,282.1Z" fill="#2b8cbe" stroke="#777777" stroke-width="0.38"/>
<path d="M597.9,300.3 L600.9,299.7 L605.6,299.7 L608.5,299.1 L609.1,305.6 L605.6,308.5 L602.6,309.1 L599.7,306.8 L597.9,303.8Z" fill="#4eb3d3" stroke="#777777" stroke-width="0.38"/>
<path d="M540,209 L548,205 L558,204 L559,201.6 L566,204 L576,207 L586,208 L594,206.4 L599,210 L607,214 L602,217 L596,219 L594,224 L586,227 L574,226 L564,225 L556,220 L549,215 L543,211Z" fill="#2b8cbe" stroke="#777777" stroke-width="0.38"/>
<path d="M627.6,232.4 L631.8,229.4 L635.3,226.5 L637.1,227.1 L637.6,230 L635.3,233.5 L635.9,235.9 L634.1,237.6 L631.8,237.4 L629.4,233.5Z" fill="#2b8cbe" stroke="#777777" stroke-width="0.38"/>
<path d="M582.4,322.9 L587.3,322.9 L590.6,326.2 L593.5,329.4 L598.2,333.5 L601.8,337.6 L604.1,342.4 L607.6,345.3 L607.1,350.6 L605.3,352.4 L601.8,350 L598.2,345.3 L594.7,339.4 L591.2,333.5 L584.8,325.4Z" fill="#4eb3d3" stroke="#777777" stroke-width="0.38"/>
<path d="M605.9,352.9 L610,352.1 L614.7,354.1 L619.4,354.7 L624.1,356.5 L628.8,358 L627.6,359.4 L622.9,358.8 L618.2,358 L613.5,357.1 L608.8,355.9 L606.5,354.5Z" fill="#4eb3d3" stroke="#777777" stroke-width="0.38"/>
<path d="M631.2,359.4 L634.1,358.2 L637.1,358.5 L634.7,360 L631.8,360.6Z" fill="#4eb3d3" stroke="#777777" stroke-width="0.38"/>
<path d="M638.8,358.5 L642.4,357.6 L645.3,358 L642.9,359.4 L639.4,359.6Z" fill="#4eb3d3" stroke="#777777" stroke-width="0.38"/>
<path d="M636.5,360.8 L638.8,361.5 L640.6,363.2 L638.2,362.9Z" fill="#4eb3d3" stroke="#777777" stroke-width="0.38"/>
<path d="M646.5,362.9 L650,360 L655.3,358.2 L654.1,360 L650,362.4 L647.6,363.9Z" fill="#4eb3d3" stroke="#777777" stroke-width="0.38"/>
<path d="M614.7,333.5 L617.1,331.8 L620.6,330 L625.3,327.6 L628.8,324.1 L631.8,319.4 L637.1,322.4 L635.3,325.3 L633.5,327.6 L635.3,331.2 L636.5,334.1 L634.7,335.3 L633.5,339.4 L631.2,344.1 L629.4,346.5 L625.3,345.3 L620.6,344.7 L617.1,342.9 L615.3,339.4 L614.1,335.9Z" fill="#4eb3d3" stroke="#777777" stroke-width="0.38"/>
<path d="M638.2,337.6 L640.6,334.7 L645.3,334.1 L651.2,332.9 L651.8,334.1 L647.6,335.9 L642.9,336.8 L641.2,338.8 L644.7,338.8 L647.6,338.2 L647.1,340 L644.1,341.2 L645.3,345.3 L647.1,349.4 L645.3,351.2 L643.5,347.6 L642.4,344.1 L641.2,346.5 L640.6,351.2 L638.2,350.6 L638,345.3 L637.1,344.1Z" fill="#4eb3d3" stroke="#777777" stroke-width="0.38"/>
<path d="M657.3,331.8 L659.4,331.4 L660,335.3 L658.8,338.8 L657.6,336.5Z" fill="#4eb3d3" stroke="#777777" stroke-width="0.38"/>
<path d="M653.5,345.1 L655.9,344.7 L657.1,345.9 L654.7,346.2Z" fill="#4eb3d3" stroke="#777777" stroke-width="0.38"/>
<path d="M658.2,344.4 L662.9,344.7 L664.7,346.2 L660.6,345.9Z" fill="#4eb3d3" stroke="#777777" stroke-width="0.38"/>
<path d="M671.8,351.8 L672.9,351.4 L673.1,354.1 L672,354.5Z" fill="#4eb3d3" stroke="#777777" stroke-width="0.38"/>
<path d="M637.4,289.1 L640.3,288.5 L642.1,291.5 L641.5,295.6 L643.2,299.1 L646.2,300.3 L646.8,302.6 L649.7,304.4 L651.5,307.4 L649.1,306.8 L646.2,303.8 L642.6,302.1 L640.3,303.2 L638.5,299.7 L636.8,295.6Z" fill="#4eb3d3" stroke="#777777" stroke-width="0.38"/>
<path d="M642.4,306.5 L645.5,307.6 L647.6,310.5 L646.4,313.1 L643.8,311.5 L642.9,308.9Z" fill="#4eb3d3" stroke="#777777" stroke-width="0.38"/>
<path d="M647.7,304.2 L650.9,305.4 L651.7,309.1 L649.9,310.8 L648.5,307.7Z" fill="#4eb3d3" stroke="#777777" stroke-width="0.38"/>
<path d="M639.7,303.2 L642.1,302.6 L642.6,305 L640.9,305.8Z" fill="#4eb3d3" stroke="#777777" stroke-width="0.38"/>
<path d="M643.5,317.1 L646.5,314.7 L650,312.9 L652.4,311.8 L654.1,315.9 L653.5,320 L651.2,322.4 L649.4,319.4 L646.5,318.2 L644.1,318.5Z" fill="#4eb3d3" stroke="#777777" stroke-width="0.38"/>
<path d="M632.6,314.4 L635.6,310.3 L637.7,307.7 L636.8,310.9 L633.8,314.4Z" fill="#4eb3d3" stroke="#777777" stroke-width="0.38"/>
<path d="M664.4,339.4 L668.2,338 L671.8,338.8 L672.9,342.4 L677.1,344.1 L681.2,341.2 L686.5,342 L687.9,344.1 L687.9,360 L684.1,358.2 L680,358.5 L681.8,355.9 L680.6,353.5 L677.6,350.6 L674.1,347.6 L671.2,345.3 L668.2,343.5 L666.5,341.2Z" fill="#4eb3d3" stroke="#777777" stroke-width="0.38"/>
<path d="M688.4,343.6 L694,346 L700,350 L703,354 L702,357 L706,361 L708.4,364 L703,362.4 L698,360 L692,359 L688,358.6Z" fill="#a8ddb5" stroke="#777777" stroke-width="0.38"/>
<path d="M705,351.6 L710,351 L714.4,348 L716,344 L714.4,343.6 L713,347 L709.6,349.6 L705,350.4Z" fill="#a8ddb5" stroke="#777777" stroke-width="0.38"/>
<path d="M719,351 L722,353 L721,354Z" fill="#7bccc4" stroke="#777777" stroke-width="0.38"/>
<path d="M725,355.6 L729,358 L728,359Z" fill="#7bccc4" stroke="#777777" stroke-width="0.38"/>
<path d="M731,360 L735,363.6 L733.6,364.4Z" fill="#7bccc4" stroke="#777777" stroke-width="0.38"/>
<path d="M743,375 L744.4,375.6 L745.2,379.6 L744,380Z" fill="#7bccc4" stroke="#777777" stroke-width="0.38"/>
<path d="M766,382.6 L769,381.6 L770,383.6 L767,384.4Z" fill="#4eb3d3" stroke="#777777" stroke-width="0.38"/>
<ellipse cx="433.176" cy="405.882" rx="1.3" ry="1.9" fill="#4eb3d3" stroke="#777777" stroke-width="0.3"/>
<ellipse cx="425.529" cy="414.118" rx="2.6" ry="1.7" transform="rotate(-35 425.529 414.118)" fill="#4eb3d3" stroke="#777777" stroke-width="0.3"/>
<path d="M616.5,332.6 L620.6,330 L625.3,327.6 L628.8,324.1 L631.8,319.4 L637.1,322.4 L635.3,325.3 L632.4,325.9 L630,326.5 L627.6,330 L624.1,332.9 L620,334.1 L617.6,334.1Z" fill="#0868ac" stroke="#777777" stroke-width="0.38"/>
<path d="M421.2,226.2 L422.1,222.4 L424.5,219.1 L426.5,215.8 L429.4,215.8 L431.8,219.1 L434.1,220.9 L437.6,221.2 L442.4,222.1 L446.5,223.8 L449.4,225.6 L450.4,227.9 L447.6,229.5 L443.5,229.1 L438.8,227.9 L434.1,227.4 L430.6,228.5 L427.1,229.7 L423.5,229.5 L421.4,227.9Z" fill="#ffffff"/>
<path d="M435.1,216.8 L437.6,215 L441.8,214.4 L441.2,216.5 L438.8,218.5 L435.9,218.5Z" fill="#ffffff"/>
<path d="M460,220.3 L462.4,217.4 L466.5,215 L470.6,214.4 L472,216.2 L470.6,218.5 L467.6,219.7 L467.1,221.5 L469.4,223.8 L471.8,226.2 L473.5,229.1 L475.1,227.1 L477.4,227.9 L477.1,230.3 L475.3,230.9 L473.5,231.5 L476.5,234.4 L478.2,237.4 L478.6,240.1 L475.3,240.3 L471.2,239.1 L468.5,236.8 L468,233.2 L468.8,231.5 L467.1,228.5 L464.7,225.6 L461.8,223.2Z" fill="#ffffff"/>
<path d="M158,300.1 L160.1,299.2 L162.5,299.8 L163.4,302" fill="none" stroke="#777777" stroke-width="0.38" stroke-linejoin="round"/>
<path d="M164.6,304.6 L166.2,307.1 L168.7,307.5 L171.2,307.1" fill="none" stroke="#777777" stroke-width="0.38" stroke-linejoin="round"/>
<path d="M172.8,312.4 L173.2,315.7" fill="none" stroke="#777777" stroke-width="0.38" stroke-linejoin="round"/>
<path d="M222.9,388.8 L226.5,387.1 L231.8,387.6 L232.4,392.9 L236.5,394.7 L241.2,400 L241.8,405.3 L238.2,408.2 L232.9,408.2 L232.4,404.7 L233.5,402.9 L227.1,398.2 L221.8,394.1" fill="none" stroke="#777777" stroke-width="0.38" stroke-linejoin="round"/>
<path d="M241.8,405.3 L243.5,406.5 L238.8,411.8 L235.9,415.3 L241.2,417.6 L246.5,421.2" fill="none" stroke="#777777" stroke-width="0.38" stroke-linejoin="round"/>
<path d="M235.9,415.3 L235.3,422.4 L236.5,426.5" fill="none" stroke="#777777" stroke-width="0.38" stroke-linejoin="round"/>
<path d="M211.2,396.5 L209.4,401.2 L207.6,409.4 L207.6,417.6 L210,425.9 L210.6,430" fill="none" stroke="#777777" stroke-width="0.38" stroke-linejoin="round"/>
<path d="M195.3,360 L201.2,362.4 L204.1,365.9" fill="none" stroke="#777777" stroke-width="0.38" stroke-linejoin="round"/>
<path d="M209.6,406 L210,420 L209,434 L211,446 L215,460 L220,470 L225,473 L227,476" fill="none" stroke="#777777" stroke-width="0.38" stroke-linejoin="round"/>
<path d="M199.1,305.3 L196.2,311.8 L196.8,317.6 L203.8,319.4 L207.4,321.2 L206.8,331.8 L203.8,333.5" fill="none" stroke="#777777" stroke-width="0.38" stroke-linejoin="round"/>
<path d="M206.8,331.8 L210.3,334.7 L215.6,332.4 L216.8,330 L213.8,328.2 L214.4,326.5 L222.6,324.7 L222.1,320.6 L223.8,316.5" fill="none" stroke="#777777" stroke-width="0.38" stroke-linejoin="round"/>
<path d="M222.6,324.7 L225,331.8 L229.1,333.5 L230.9,331.8 L230.9,328.8" fill="none" stroke="#777777" stroke-width="0.38" stroke-linejoin="round"/>
<path d="M203.8,333.5 L202.1,335.3 L202.1,345.9 L200.9,348.2" fill="none" stroke="#777777" stroke-width="0.38" stroke-linejoin="round"/>
<path d="M181.5,334.1 L189.7,337.6 L194.4,342.9 L200.9,345.3" fill="none" stroke="#777777" stroke-width="0.38" stroke-linejoin="round"/>
<path d="M189.7,337.6 L187.4,342.4 L182.6,347.1 L180.9,349.4 L176.8,347.6" fill="none" stroke="#777777" stroke-width="0.38" stroke-linejoin="round"/>
<path d="M200.9,348.2 L195.6,350.6 L193.2,355.3 L195.6,361.2 L200.3,364.1 L203.8,365.3" fill="none" stroke="#777777" stroke-width="0.38" stroke-linejoin="round"/>
<path d="M128,159.6 L104,180.6 L109,183 L114,188 L115,195 L113,200 L115,208" fill="none" stroke="#777777" stroke-width="0.38" stroke-linejoin="round"/>
<path d="M115,209.4 L110,209 L172,209 L184,211 L192,216 L193,220 L189,227 L187.7,227.4 L189.8,228.2 L197.2,224.1 L202.9,222.4 L206.2,219.9 L213.6,218.7 L217.8,217.5 L219.4,215 L223,213.8 L224.2,216.8 L223.2,219.8" fill="none" stroke="#777777" stroke-width="0.38" stroke-linejoin="round"/>
<path d="M105.6,251 L110.6,251.8 L115.5,254.3 L122.9,254.7 L126.2,253.5 L128.7,254.7 L131.2,258.4 L133.6,260.9 L136.9,258.8 L139.4,261.3 L141.1,265.4 L142.7,268.3 L145.2,269.5" fill="none" stroke="#777777" stroke-width="0.38" stroke-linejoin="round"/>
<path d="M152.1,298 L153.1,295.9 L155.5,293.9 L156.2,291.6 L159,291 L161.7,289.4" fill="none" stroke="#777777" stroke-width="0.38" stroke-linejoin="round"/>
<path d="M342.9,265 L344.1,265 L348.8,270.3 L350.8,295" fill="none" stroke="#777777" stroke-width="0.38" stroke-linejoin="round"/>
<path d="M350,290 L350.6,295.9 L337.6,296.5 L333.5,297.1" fill="none" stroke="#777777" stroke-width="0.38" stroke-linejoin="round"/>
<path d="M348.8,270.3 L369.4,286.2 L372.4,286.8" fill="none" stroke="#777777" stroke-width="0.38" stroke-linejoin="round"/>
<path d="M419.7,279.4 L419.7,285 L417.7,285.6" fill="none" stroke="#777777" stroke-width="0.38" stroke-linejoin="round"/>
<path d="M417.4,290 L416.8,295.9 L413.8,302.9 L415,307.6 L419.1,312.9 L420.3,310 L423.8,311.2 L428.5,312.4 L432.1,310.6 L436.2,309.4 L436.8,305.9 L439.1,305.3 L441.5,310 L443.2,305.3 L446.2,299.4 L447.4,294.7 L450.3,290" fill="none" stroke="#777777" stroke-width="0.38" stroke-linejoin="round"/>
<path d="M446.2,299.4 L452.1,298.8 L456.8,301.2 L460.3,305.3 L459.7,307.6 L462.1,308.8 L462.1,307.1" fill="none" stroke="#777777" stroke-width="0.38" stroke-linejoin="round"/>
<path d="M433.2,326.5 L433.8,331.2 L432.6,337.1 L434.4,339.4 L440.9,339.4 L442.1,339.4" fill="none" stroke="#777777" stroke-width="0.38" stroke-linejoin="round"/>
<path d="M434.4,339.4 L430.3,340.6 L430.3,348.8 L433.8,348.8 L434.4,339.4" fill="none" stroke="#777777" stroke-width="0.38" stroke-linejoin="round"/>
<path d="M430.3,344.7 L433.8,344.7" fill="none" stroke="#777777" stroke-width="0.38" stroke-linejoin="round"/>
<path d="M433.8,348.8 L432.1,355.9 L433.2,360" fill="none" stroke="#777777" stroke-width="0.38" stroke-linejoin="round"/>
<path d="M332.4,312.9 L335.3,310.6 L337.6,311.8 L338.8,315.3 L336.5,318.8" fill="none" stroke="#777777" stroke-width="0.38" stroke-linejoin="round"/>
<path d="M338.8,315.3 L341.2,316.5 L344.7,321.2 L345.3,325.3" fill="none" stroke="#777777" stroke-width="0.38" stroke-linejoin="round"/>
<path d="M344.1,309.4 L349.4,310 L355.3,311.8 L355.9,318.2 L356.5,323.5" fill="none" stroke="#777777" stroke-width="0.38" stroke-linejoin="round"/>
<path d="M349.4,310 L351.2,305.9" fill="none" stroke="#777777" stroke-width="0.38" stroke-linejoin="round"/>
<path d="M356.5,308.2 L356.7,313.5 L355.9,318.2" fill="none" stroke="#777777" stroke-width="0.38" stroke-linejoin="round"/>
<path d="M363.5,308.2 L364.1,313.5 L365.3,321.8" fill="none" stroke="#777777" stroke-width="0.38" stroke-linejoin="round"/>
<path d="M395.9,311.8 L398.2,315.3 L397.1,320.6 L398.8,326.5 L402.4,330.6 L398.8,331.2 L392.9,330.6 L384.9,330.6" fill="none" stroke="#777777" stroke-width="0.38" stroke-linejoin="round"/>
<path d="M389.4,330.6 L389.4,334.1 L384.7,334.1" fill="none" stroke="#777777" stroke-width="0.38" stroke-linejoin="round"/>
<path d="M392.9,330.6 L395.3,332.4 L395.3,337.1 L396.5,340.6 L394.1,342.4 L391.2,342.9 L389.4,345.3 L388.2,346.5" fill="none" stroke="#777777" stroke-width="0.38" stroke-linejoin="round"/>
<path d="M402.4,330.6 L404.7,327.6 L405.3,331.2 L404.1,337.1 L401.2,342.9 L397.6,347.6 L395.3,349.4 L391.8,350" fill="none" stroke="#777777" stroke-width="0.38" stroke-linejoin="round"/>
<path d="M404.7,327.6 L408.2,324.1 L414.1,324.7 L420,323.5" fill="none" stroke="#777777" stroke-width="0.38" stroke-linejoin="round"/>
<path d="M439.4,361.8 L441.2,365.3 L441.8,370.6 L444.1,373.5 L444.4,377.6 L442.4,380 L440.6,376.5 L440,372.9 L438.2,371.8" fill="none" stroke="#777777" stroke-width="0.38" stroke-linejoin="round"/>
<path d="M441.2,365.3 L442.9,367.6 L455.3,364.1" fill="none" stroke="#777777" stroke-width="0.38" stroke-linejoin="round"/>
<path d="M431.2,358.8 L431.2,355.9 L431.2,350" fill="none" stroke="#777777" stroke-width="0.38" stroke-linejoin="round"/>
<path d="M435.9,378.8 L437.6,381.8 L437.6,386.5 L435.9,391.2 L433.5,394.7 L434.1,397.1 L434.5,401.8" fill="none" stroke="#777777" stroke-width="0.38" stroke-linejoin="round"/>
<path d="M479.7,273.8 L480.5,276.3 L483.4,277.5 L487.5,278.4" fill="none" stroke="#777777" stroke-width="0.38" stroke-linejoin="round"/>
<path d="M382.5,184.7 L384.6,178.3 L386.8,171.3 L390.3,165.6 L396,162 L400.9,160.6" fill="none" stroke="#777777" stroke-width="0.38" stroke-linejoin="round"/>
<path d="M403,169.1 L402.3,164.2 L400.9,160.6 L406.6,158.5 L410.8,158.5 L413.7,159.2 L412.3,165.6 L415.1,171.3 L419.3,175.5 L416.5,180.5 L414.4,181.9" fill="none" stroke="#777777" stroke-width="0.38" stroke-linejoin="round"/>
<path d="M408,184.7 L409.4,188.3 L410.8,191.1 L415.1,192.5 L419.3,191.8 L422.2,195.3 L425,198.9 L430.7,202.4 L433.5,204.5 L439.2,206 L444.1,207.4 L443.4,212.3 L442,214.5" fill="none" stroke="#777777" stroke-width="0.38" stroke-linejoin="round"/>
<path d="M404.5,188 L409.4,188.3" fill="none" stroke="#777777" stroke-width="0.38" stroke-linejoin="round"/>
<path d="M403,191.8 L410.8,191.1" fill="none" stroke="#777777" stroke-width="0.38" stroke-linejoin="round"/>
<path d="M402.3,195.3 L406.6,196 L410.8,193.9 L410.8,191.1" fill="none" stroke="#777777" stroke-width="0.38" stroke-linejoin="round"/>
<path d="M406.6,196 L409.4,202.4 L416.5,203.1 L423.6,201.7 L425,198.9" fill="none" stroke="#777777" stroke-width="0.38" stroke-linejoin="round"/>
<path d="M409.4,202.4 L410.8,208.1 L408,210.9 L413.7,210.2 L419.3,209.5 L423.6,213 L422.2,216.6 L426.4,218" fill="none" stroke="#777777" stroke-width="0.38" stroke-linejoin="round"/>
<path d="M419.3,209.5 L421.5,214.5 L422.2,216.6" fill="none" stroke="#777777" stroke-width="0.38" stroke-linejoin="round"/>
<path d="M410.8,222.3 L419.3,220.8 L423.6,221.5" fill="none" stroke="#777777" stroke-width="0.38" stroke-linejoin="round"/>
<path d="M410.8,227.9 L416.5,228.6 L422.2,227.2 L423.6,225.1" fill="none" stroke="#777777" stroke-width="0.38" stroke-linejoin="round"/>
<path d="M361.3,222.3 L368.3,225.8" fill="none" stroke="#777777" stroke-width="0.38" stroke-linejoin="round"/>
<path d="M344.3,223.7 L347.8,227.2 L346.4,235" fill="none" stroke="#777777" stroke-width="0.38" stroke-linejoin="round"/>
<path d="M377.1,197.4 L375.9,200.9 L374.4,202.9 L375,206.8 L376.2,208.5 L378.8,209.1 L378.2,212.4 L381.8,212.6 L385.3,213.8 L389.4,212.6 L390.3,210.9 L389.4,209.7 L387.4,206.8 L389.4,204.4 L392.4,203.8 L391.2,200.9 L390.6,197.9 L390,196.8" fill="none" stroke="#777777" stroke-width="0.38" stroke-linejoin="round"/>
<path d="M392.4,203.8 L395.9,205.3 L398.2,206.2 L400.9,207.6 L399.4,209.1 L397.1,210.3 L393.5,209.1 L390.3,210.9" fill="none" stroke="#777777" stroke-width="0.38" stroke-linejoin="round"/>
<path d="M400.9,207.6 L402.9,208.5 L407.6,209.1 L408.2,207.6 L410.6,203.8 L409.4,200.9 L408.8,197.6" fill="none" stroke="#777777" stroke-width="0.38" stroke-linejoin="round"/>
<path d="M397.1,210.3 L397.6,212.1 L396.5,214.4 L393.5,215.6 L390.6,215.3 L387.6,214.4 L384.7,213.8" fill="none" stroke="#777777" stroke-width="0.38" stroke-linejoin="round"/>
<path d="M378.2,212.4 L377.1,213.8 L375.9,215.6 L377.4,217.6 L379.4,216.8 L383.5,215.6 L384.7,213.8" fill="none" stroke="#777777" stroke-width="0.38" stroke-linejoin="round"/>
<path d="M377.4,217.6 L377.6,220.3 L378.8,222.6" fill="none" stroke="#777777" stroke-width="0.38" stroke-linejoin="round"/>
<path d="M397.6,212.1 L400.6,212.1 L405.3,210.9 L408.2,211.8 L406.5,215 L404.7,217.1 L401.2,217.6 L397.6,216.8 L396.5,214.4" fill="none" stroke="#777777" stroke-width="0.38" stroke-linejoin="round"/>
<path d="M407.6,209.1 L408.2,211.8 L411.2,211.5 L416.5,210.9 L420,212.6" fill="none" stroke="#777777" stroke-width="0.38" stroke-linejoin="round"/>
<path d="M390.6,215.3 L391.8,217.9 L393.5,215.6" fill="none" stroke="#777777" stroke-width="0.38" stroke-linejoin="round"/>
<path d="M397.6,216.8 L395.9,218.5" fill="none" stroke="#777777" stroke-width="0.38" stroke-linejoin="round"/>
<path d="M404.7,217.1 L405.3,223.2 L408.2,225 L410.6,224.4 L411.2,221.5 L410,218.5 L406.5,215" fill="none" stroke="#777777" stroke-width="0.38" stroke-linejoin="round"/>
<path d="M411.2,221.5 L415.9,219.7 L420,218.5" fill="none" stroke="#777777" stroke-width="0.38" stroke-linejoin="round"/>
<path d="M370,200 L372.9,200.9 L375.9,200.9" fill="none" stroke="#777777" stroke-width="0.38" stroke-linejoin="round"/>
<path d="M370,203.8 L372.4,205.6 L374.4,202.9" fill="none" stroke="#777777" stroke-width="0.38" stroke-linejoin="round"/>
<path d="M382.1,195 L383.5,196.5" fill="none" stroke="#777777" stroke-width="0.38" stroke-linejoin="round"/>
<path d="M457.6,210.3 L458.8,205.6 L463.5,202.6 L469.4,202.6 L474.1,204.4 L481.2,203.8 L484.7,203.2 L482.4,200.9 L483.5,197.4 L490.6,194.4 L497.6,193.2 L502.4,196.2 L509.4,196.8 L514.1,199.1 L520,202.6" fill="none" stroke="#777777" stroke-width="0.38" stroke-linejoin="round"/>
<path d="M472,215.8 L478.8,220.3 L483.5,218.5 L490.6,222.6 L496.5,222.6 L501.2,225 L504.7,228.5 L509.4,229.7" fill="none" stroke="#777777" stroke-width="0.38" stroke-linejoin="round"/>
<path d="M478.8,220.3 L478.2,225 L481.2,228.5 L485.9,225.6 L490.6,227.4 L495.3,231.5 L500,234.4 L504.7,236.8 L508.2,233.8" fill="none" stroke="#777777" stroke-width="0.38" stroke-linejoin="round"/>
<path d="M478.6,240.1 L483.5,237.4 L489.4,238.5 L495.3,242.6 L495.3,245" fill="none" stroke="#777777" stroke-width="0.38" stroke-linejoin="round"/>
<path d="M450,225 L454.1,223.8 L458.8,223.2 L461.2,220.3" fill="none" stroke="#777777" stroke-width="0.38" stroke-linejoin="round"/>
<path d="M468.8,231.5 L464.7,235 L461.2,235 L457.6,232.1 L458.8,236.8 L462.4,240.3 L465.3,243.8 L469.4,246.2" fill="none" stroke="#777777" stroke-width="0.38" stroke-linejoin="round"/>
<path d="M490,195 L498,193 L510,197 L522,204 L533,208 L540,209" fill="none" stroke="#777777" stroke-width="0.38" stroke-linejoin="round"/>
<path d="M533,208 L539,210 L533,216 L530,224" fill="none" stroke="#777777" stroke-width="0.38" stroke-linejoin="round"/>
<path d="M599,210 L600,200 L606,198 L614,202 L626,210 L634,211 L638,218 L637,224" fill="none" stroke="#777777" stroke-width="0.38" stroke-linejoin="round"/>
<path d="M459.1,236.8 L462.6,243.8 L463.8,248.5 L467.4,252.6 L469.1,257.4" fill="none" stroke="#777777" stroke-width="0.38" stroke-linejoin="round"/>
<path d="M496.2,245.6 L496.8,250.3 L499.1,254.4 L498.5,259.1 L502.6,260.3 L503.8,266.8 L500.9,270.6" fill="none" stroke="#777777" stroke-width="0.38" stroke-linejoin="round"/>
<path d="M579,265 L583,265 L587,270 L590,278 L593,278 L602,277 L608,282" fill="none" stroke="#777777" stroke-width="0.38" stroke-linejoin="round"/>
<path d="M627.6,232.4 L631.8,229.4 L635.3,226.5 L637.6,225.3" fill="none" stroke="#777777" stroke-width="0.38" stroke-linejoin="round"/>
<path d="M634.1,237.6 L638.2,237.6" fill="none" stroke="#777777" stroke-width="0.38" stroke-linejoin="round"/>
</g>
<g id="legend">
<rect x="98.5" y="538.5" width="48" height="10" fill="url(#hatch)" stroke="#bbb" stroke-width="0.6"/>
<text class="lg" x="122.5" y="530">No data</text>
<g stroke="#b5b5b5" stroke-width="0.4">
<rect x="166" y="538" width="58.55" height="10.3" fill="#f7fcf0"/>
<rect x="224.55" y="538" width="58.55" height="10.3" fill="#e0f3db"/>
<rect x="283.1" y="538" width="58.55" height="10.3" fill="#ccebc5"/>
<rect x="341.65" y="538" width="58.55" height="10.3" fill="#a8ddb5"/>
<rect x="400.2" y="538" width="58.55" height="10.3" fill="#7bccc4"/>
<rect x="458.75" y="538" width="58.55" height="10.3" fill="#4eb3d3"/>
<rect x="517.3" y="538" width="58.55" height="10.3" fill="#2b8cbe"/>
<rect x="575.85" y="538" width="58.55" height="10.3" fill="#0868ac"/>
<rect x="634.4" y="538" width="58.55" height="10.3" fill="#08539a"/>
<rect x="692.95" y="538" width="58.55" height="10.3" fill="#083d7e"/>
</g>
<g stroke="#555" stroke-opacity="0.6" stroke-width="0.6">
<line x1="122.5" y1="533" x2="122.5" y2="538.5"/>
<line x1="166" y1="533" x2="166" y2="548.5"/>
<line x1="224.55" y1="533" x2="224.55" y2="548.5"/>
<line x1="283.1" y1="533" x2="283.1" y2="548.5"/>
<line x1="341.65" y1="533" x2="341.65" y2="548.5"/>
<line x1="400.2" y1="533" x2="400.2" y2="548.5"/>
<line x1="458.75" y1="533" x2="458.75" y2="548.5"/>
<line x1="517.3" y1="533" x2="517.3" y2="548.5"/>
<line x1="575.85" y1="533" x2="575.85" y2="548.5"/>
<line x1="634.4" y1="533" x2="634.4" y2="548.5"/>
<line x1="692.95" y1="533" x2="692.95" y2="548.5"/>
<line x1="751.5" y1="533" x2="751.5" y2="548.5"/>
</g>
<text class="lg" x="166" y="530">0</text>
<text class="lg" x="224.55" y="530">10</text>
<text class="lg" x="283.1" y="530">20</text>
<text class="lg" x="341.65" y="530">30</text>
<text class="lg" x="400.2" y="530">40</text>
<text class="lg" x="458.75" y="530">50</text>
<text class="lg" x="517.3" y="530">60</text>
<text class="lg" x="575.85" y="530">70</text>
<text class="lg" x="634.4" y="530">80</text>
<text class="lg" x="692.95" y="530">90</text>
<text class="lg" x="751.5" y="530">100</text>
</g>
</svg>
<div id="f1"><b style="letter-spacing:-0.35px">Data source:</b> World Health Organization - Global Health Observatory (2025)</div>
<div id="f2">OurWorldinData.org/financing-healthcare | CC BY</div>
</body></html>
